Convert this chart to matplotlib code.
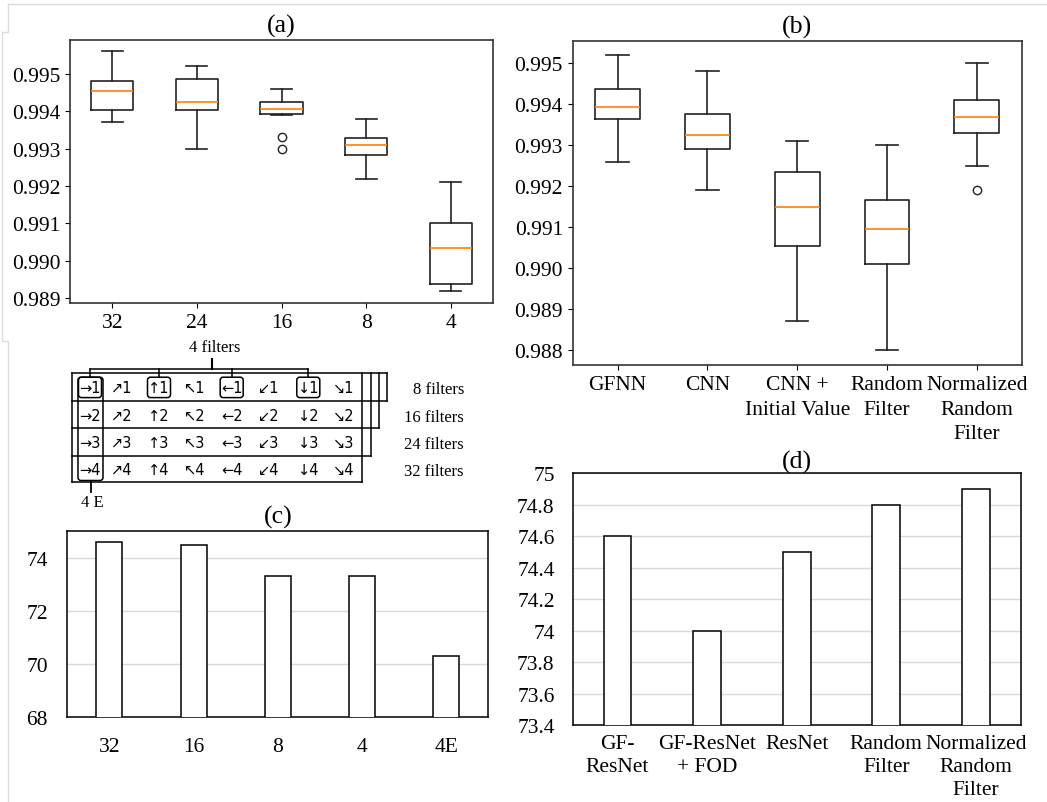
import matplotlib
matplotlib.use("Agg")
import matplotlib.pyplot as plt
from matplotlib.patches import FancyBboxPatch
from matplotlib.ticker import FuncFormatter

plt.rcParams['font.family'] = ['Liberation Serif', 'DejaVu Serif']
plt.rcParams['font.size'] = 15.5

# (a) boxplot: number of filters
a_labels = ['32', '24', '16', '8', '4']
a_whislo = [0.99371, 0.99300, 0.99390, 0.99219, 0.98919]
a_q1 = [0.99403, 0.99403, 0.99392, 0.99283, 0.98939]
a_med = [0.99455, 0.99425, 0.99406, 0.99310, 0.99035]
a_q3 = [0.99480, 0.99487, 0.99425, 0.99328, 0.99102]
a_whishi = [0.99561, 0.99521, 0.99460, 0.99380, 0.99210]
a_fliers = [[], [], [0.99331, 0.99300], [], []]

# (b) boxplot: model comparison
b_labels = ['GFNN', 'CNN', 'CNN +\nInitial Value', 'Random\nFilter',
            'Normalized\nRandom\nFilter']
b_whislo = [0.99260, 0.99190, 0.98871, 0.98800, 0.99250]
b_q1 = [0.99363, 0.99290, 0.99055, 0.99011, 0.99330]
b_med = [0.99394, 0.99325, 0.99150, 0.99095, 0.99370]
b_q3 = [0.99437, 0.99377, 0.99235, 0.99167, 0.99410]
b_whishi = [0.99520, 0.99480, 0.99310, 0.99300, 0.99500]
b_fliers = [[], [], [], [], [0.99190]]

# (c) bars
c_labels = ['32', '16', '8', '4', '4E']
c_values = [74.6, 74.5, 73.3, 73.3, 70.3]

# (d) bars
d_labels = ['GF-\nResNet', 'GF-ResNet\n+ FOD', 'ResNet', 'Random\nFilter',
            'Normalized\nRandom\nFilter']
d_values = [74.6, 74.0, 74.5, 74.8, 74.9]

# filter diagram
arrows = ['\u2192', '\u2197', '\u2191', '\u2196', '\u2190', '\u2199', '\u2193', '\u2198']
scales = ['1', '2', '3', '4']
row_labels = ['8 filters', '16 filters', '24 filters', '32 filters']
picked_cols = [0, 2, 4, 6]   # the 4 filters

W, H = 1047, 803
fig = plt.figure(figsize=(W / 100, H / 100), dpi=100)


def px_axes(x0, y0, x1, y1):
    return fig.add_axes([x0 / W, 1 - y1 / H, (x1 - x0) / W, (y1 - y0) / H])


def make_stats(lo, q1, med, q3, hi, fl):
    return [dict(whislo=a, q1=b, med=c, q3=d, whishi=e, fliers=f)
            for a, b, c, d, e, f in zip(lo, q1, med, q3, hi, fl)]


def style_box_axes(ax):
    for s in ax.spines.values():
        s.set_color('#333333')
        s.set_linewidth(1.2)


box_kw = dict(boxprops=dict(color='#222222', linewidth=1.2),
              whiskerprops=dict(color='#222222', linewidth=1.2),
              capprops=dict(color='#222222', linewidth=1.2),
              medianprops=dict(color='#ff7f0e', linewidth=1.2),
              flierprops=dict(marker='o', markerfacecolor='none',
                              markeredgecolor='#222222', markersize=6))

# ---- (a)
ax_a = px_axes(70, 41, 493, 304)
ax_a.bxp(make_stats(a_whislo, a_q1, a_med, a_q3, a_whishi, a_fliers), **box_kw)
ax_a.set_xticks(range(1, 6))
ax_a.set_xticklabels(a_labels)
ax_a.set_ylim(0.98887, 0.99591)
ax_a.set_yticks([0.989, 0.990, 0.991, 0.992, 0.993, 0.994, 0.995])
ax_a.yaxis.set_major_formatter(FuncFormatter(lambda v, p: f'{v:.3f}'))
ax_a.set_title('(a)', pad=6)
style_box_axes(ax_a)

# ---- (b)
ax_b = px_axes(572.7, 41.7, 1021.7, 366.3)
ax_b.bxp(make_stats(b_whislo, b_q1, b_med, b_q3, b_whishi, b_fliers), **box_kw)
ax_b.set_xticks(range(1, 6))
ax_b.set_xticklabels(b_labels, linespacing=1.4)
ax_b.set_ylim(0.98763, 0.99555)
ax_b.set_yticks([0.988, 0.989, 0.990, 0.991, 0.992, 0.993, 0.994, 0.995])
ax_b.yaxis.set_major_formatter(FuncFormatter(lambda v, p: f'{v:.3f}'))
ax_b.set_title('(b)', pad=6)
style_box_axes(ax_b)


def bar_panel(ax, labels, values, ylim, yticks, title, xpad, ypad, tpad):
    ax.bar(range(len(values)), values, width=0.31, color='white',
           edgecolor='black', linewidth=1.1, zorder=3)
    ax.set_xlim(-0.5, len(values) - 0.5)
    ax.set_ylim(*ylim)
    ax.set_yticks(yticks)
    ax.yaxis.set_major_formatter(FuncFormatter(lambda v, p: f'{round(v, 1):g}'))
    ax.set_xticks(range(len(values)))
    ax.set_xticklabels(labels, linespacing=1.3)
    ax.tick_params(axis='x', length=0, pad=xpad)
    ax.tick_params(axis='y', length=0, pad=ypad)
    ax.grid(axis='y', color='#d9d9d9', linewidth=1.0, zorder=0)
    ax.set_axisbelow(True)
    for s in ax.spines.values():
        s.set_color('black')
        s.set_linewidth(1.1)
    ax.set_title(title, pad=tpad)


# ---- (c)
ax_c = px_axes(67.3, 532.3, 488.3, 718.3)
bar_panel(ax_c, c_labels, c_values, (68, 75), [68, 70, 72, 74], '(c)', 14, 14, 6)

# ---- (d)
ax_d = px_axes(572.7, 474.3, 1020.7, 726.3)
bar_panel(ax_d, d_labels, d_values, (73.4, 75),
          [73.4, 73.6, 73.8, 74.0, 74.2, 74.4, 74.6, 74.8, 75.0], '(d)', 6, 13, 2)

# ---- overlay for the filter diagram (pixel coordinates)
ov = fig.add_axes([0, 0, 1, 1], zorder=-1)
ov.set_xlim(0, W)
ov.set_ylim(H, 0)
ov.axis('off')

# screenshot border lines
gray = '#dcdcdc'
ov.plot([8, W], [5, 5], color=gray, lw=1)
ov.plot([8, 8, 2, 2, 8, 8], [5, 33, 33, 342, 342, H], color=gray, lw=1)

col_x = [90, 122, 159, 195, 231.7, 268.3, 308.3, 343.3]
row_y = [374.3, 401.7, 429.3, 456.7, 483.3]
x_left = 72.3
sheet_right = [387.3, 379.3, 370.7, 361.7]
lw = 1.1

# stacked sheets
for i, xr in enumerate(sheet_right):
    ov.plot([xr, xr], [row_y[0], row_y[i + 1]], color='black', lw=lw)
    ov.plot([x_left, xr], [row_y[i + 1], row_y[i + 1]], color='black', lw=lw)
ov.plot([x_left, sheet_right[0]], [row_y[0], row_y[0]], color='black', lw=lw)
ov.plot([x_left, x_left], [row_y[0], row_y[-1]], color='black', lw=lw)

for r, sc in enumerate(scales):
    yc = (row_y[r] + row_y[r + 1]) / 2 + 1
    for c, ar in enumerate(arrows):
        ov.text(col_x[c], yc, ar + sc, ha='center', va='center',
                fontsize=10.5, family='DejaVu Sans')
    ov.text(464, yc + 1.5, row_labels[r], ha='right', va='center', fontsize=12)

# rounded boxes around the chosen filters
for c in picked_cols:
    ov.add_patch(FancyBboxPatch((col_x[c] - 11.5, 378.2), 23, 20.4,
                                boxstyle='round,pad=0,rounding_size=3',
                                fill=False, edgecolor='black', lw=lw))
ov.add_patch(FancyBboxPatch((col_x[0] - 12, 378.2), 25, 103.3,
                            boxstyle='round,pad=0,rounding_size=3',
                            fill=False, edgecolor='black', lw=lw))

# "4 filters" bracket
ov.text(215, 348, '4 filters', ha='center', va='center', fontsize=12)
ov.plot([211.7, 211.7], [360, 370], color='black', lw=1.5)
ov.plot([col_x[0], col_x[6]], [370, 370], color='black', lw=lw)
for c in picked_cols:
    ov.plot([col_x[c], col_x[c]], [370, 378.2], color='black', lw=lw)

# "4 E" marker
ov.plot([90.7, 90.7], [481.5, 493], color='black', lw=1.3)
ov.text(92, 503, '4 E', ha='center', va='center', fontsize=12)

fig.savefig('out.png', dpi=100)
